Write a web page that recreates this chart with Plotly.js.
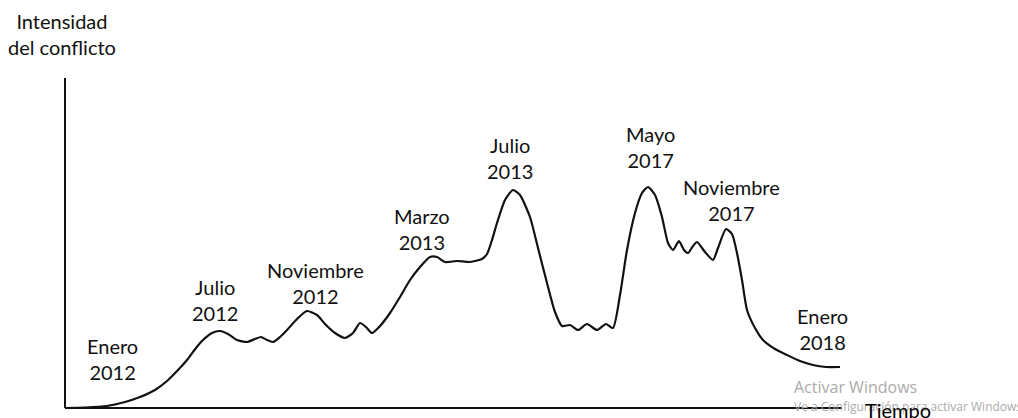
<!DOCTYPE html>
<html>
<head>
<meta charset="utf-8">
<script src="https://cdn.plot.ly/plotly-3.0.1.min.js"></script>
<style>html,body{margin:0;padding:0;background:#fff;}#chart{width:1018px;height:418px;}</style>
</head>
<body>
<div id="chart"></div>
<script>
// Curve: time (arbitrary units) vs. conflict intensity (arbitrary units)
const time = [0,20,42,60,75,90,102,113,122,131,138,147,155,163,172,182,190,196,202,208,215,222,232,242,252,260,270,280,288,295,301,307,315,325,335,345,355,365,372,380,392,405,417,422,427,432,440,448,455,465,473,482,490,497,505,513,522,532,541,548,555,562,570,577,583,590,597,603,608,614,619,623,628,632,640,648,653,661,667,672,677,682,690,698,710,722,735,748,761,775];
const intensity = [0,0.5,2,6,11,18,27,38,48,60,68,75,77,74,68,66,69,71,68,66,71,78,89,97,93,84,75,70,75,85,81,75,82,95,111,128,141,151,151,146,147,146,149,154,168,185,208,218,213,191,160,125,96,82,83,78,84,78,84,80,113,158,195,215,221,213,191,165,158,167,158,155,162,166,156,148,160,179,174,155,128,98,80,68,59,53,47,43,41,41];

// Event labels and their anchor points (time, intensity)
const eventLabels = ["Enero<br>2012","Julio<br>2012","Noviembre<br>2012","Marzo<br>2013","Julio<br>2013","Mayo<br>2017","Noviembre<br>2017","Enero<br>2018"];
const eventTime = [47,150,250,357,445,585,666,757];
const eventIntensity = [49.5,108,125,179,250.5,261,208.5,79];

const yTitle = "Intensidad<br>del conflicto";
const xTitle = "Tiempo";
const watermark1 = "Activar Windows";
const watermark2 = "Ve a Configuración para activar Windows";

const FONT = "Lato, 'Open Sans', sans-serif";

const annotations = eventLabels.map((t,i)=>({
  x: eventTime[i], y: eventIntensity[i], xref:'x', yref:'y',
  text: t, showarrow:false, xanchor:'center', yanchor:'middle',
  font:{family:FONT, size:20, color:'#111'}
}));
annotations.push({x:-3, y:374.5, xref:'x', yref:'y', text:yTitle, showarrow:false,
  xanchor:'center', yanchor:'middle', font:{family:FONT, size:20, color:'#111'}});
annotations.push({x:727, y:21, xref:'x', yref:'y', text:watermark1, showarrow:false,
  xanchor:'left', yanchor:'middle', font:{family:"'Open Sans', sans-serif", size:16, color:'#ababab'}});
annotations.push({x:727, y:2, xref:'x', yref:'y', text:watermark2, showarrow:false,
  xanchor:'left', yanchor:'middle', font:{family:"'Open Sans', sans-serif", size:12, color:'#ababab'}});
annotations.push({x:833, y:-2, xref:'x', yref:'y', text:xTitle, showarrow:false,
  xanchor:'center', yanchor:'middle', font:{family:FONT, size:20, color:'#000'}});

const trace = {
  x: time, y: intensity, type:'scatter', mode:'lines',
  line:{color:'#111', width:2.2, shape:'spline', smoothing:0.6},
  hoverinfo:'skip'
};

const layout = {
  width:1018, height:418,
  margin:{l:0,r:0,t:0,b:0,pad:0},
  paper_bgcolor:'#fff', plot_bgcolor:'#fff',
  showlegend:false,
  xaxis:{range:[-65,953], visible:false, fixedrange:true},
  yaxis:{range:[-10,408], visible:false, fixedrange:true},
  shapes:[
    {type:'line', xref:'x', yref:'y', x0:0, x1:0, y0:0, y1:330, line:{color:'#111', width:2}},
    {type:'line', xref:'x', yref:'y', x0:0, x1:777, y0:0, y1:0, line:{color:'#111', width:2}}
  ],
  annotations: annotations
};

Plotly.newPlot('chart', [trace], layout, {staticPlot:true, displayModeBar:false});
</script>
</body>
</html>
